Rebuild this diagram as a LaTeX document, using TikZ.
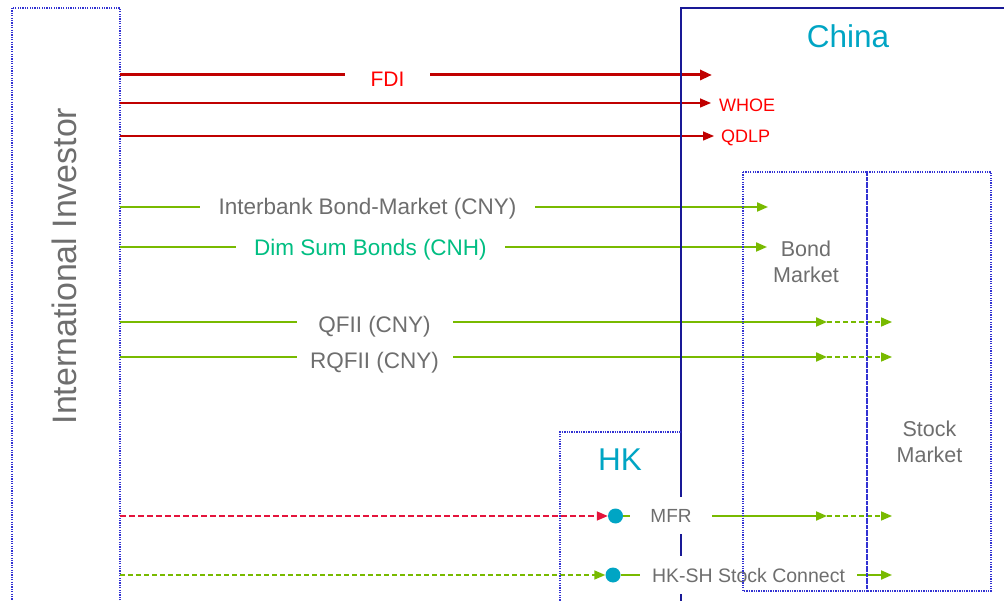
\documentclass[tikz,border=0pt]{standalone}
\usepackage{fontspec}
\setmainfont{Liberation Sans}
\usetikzlibrary{arrows.meta}
\definecolor{frameblue}{RGB}{50,50,210}
\definecolor{chinablue}{RGB}{25,25,150}
\definecolor{flowred}{RGB}{192,0,0}
\definecolor{labelred}{RGB}{255,0,0}
\definecolor{crimson}{RGB}{228,20,60}
\definecolor{lime}{RGB}{120,186,0}
\definecolor{mint}{RGB}{0,190,130}
\definecolor{regionteal}{RGB}{0,165,196}
\definecolor{textgray}{RGB}{110,110,110}
% font of a given size, with the node's text box set to its cap height
\newcommand{\fsz}[1]{\fontsize{#1}{#1}\selectfont}
\tikzset{
  capbox/.style={font=\fsz{#1}, text height=0.72*#1 pt, text depth=0pt},
  dotframe/.style={draw=frameblue, line width=1.3pt, dash pattern=on 1.3pt off 1.1pt},
  border/.style={draw=chinablue, line width=1.8pt},
  tip/.style={-{Triangle[length=11pt,width=9pt]}},
  redflow/.style={draw=flowred, line width=1.5pt, tip},
  fdiflow/.style={draw=flowred, line width=3pt, -{Triangle[length=12pt,width=10pt]}},
  greenflow/.style={draw=lime, line width=2pt, tip},
  greendash/.style={draw=lime, line width=1.6pt, dash pattern=on 5pt off 3pt, tip},
  reddash/.style={draw=crimson, line width=1.6pt, dash pattern=on 6pt off 3pt, tip},
  flowlabel/.style={fill=white, inner xsep=0pt, inner ysep=1pt, capbox=22.5, text=textgray},
  sidelabel/.style={anchor=west, inner sep=0pt, capbox=18, text=labelred},
  hub/.style={circle, fill=regionteal, minimum size=15pt, inner sep=0pt},
  region/.style={text=regionteal, inner sep=0pt, capbox=31.5},
  market/.style={text=textgray, font=\fontsize{21.5}{26.5}\selectfont, align=center, inner sep=0pt},
}
\begin{document}
\begin{tikzpicture}[x=1pt,y=-1pt]
\useasboundingbox (0,0) rectangle (1004,601);
\clip (0,0) rectangle (1004,601);

% investor frame and its label
\draw[dotframe] (12,8) rectangle (120,615);
\node[rotate=90, inner sep=0pt, capbox=33.9, text=textgray] (investor) at (64,266) {International Investor};

% start points on the investor frame
\coordinate (sFDI)   at (120,75);
\coordinate (sWHOE)  at (120,103);
\coordinate (sQDLP)  at (120,136);
\coordinate (sIBM)   at (120,207);
\coordinate (sDSB)   at (120,247);
\coordinate (sQFII)  at (120,322);
\coordinate (sRQFII) at (120,357);
\coordinate (sMFR)   at (120,516);
\coordinate (sHKSH)  at (120,575);

% end points inside China
\coordinate (eFDI)   at (712,75);
\coordinate (eWHOE)  at (711,103);
\coordinate (eQDLP)  at (714,136);
\coordinate (eIBM)   at (768,207);
\coordinate (eDSB)   at (767,247);
\coordinate (mQFII)  at (827,322);
\coordinate (eQFII)  at (892,322);
\coordinate (mRQFII) at (827,357);
\coordinate (eRQFII) at (892,357);
\coordinate (mMFR)   at (827,516);
\coordinate (eMFR)   at (892,516);
\coordinate (eHKSH)  at (892,575);

% Hong Kong hubs
\node[hub] (hubMFR)  at (615.5,516) {};
\node[hub] (hubHKSH) at (613,575) {};

% capital flows
\draw[fdiflow]   (sFDI)   -- (eFDI);
\draw[redflow]   (sWHOE)  -- (eWHOE);
\draw[redflow]   (sQDLP)  -- (eQDLP);
\draw[greenflow] (sIBM)   -- (eIBM);
\draw[greenflow] (sDSB)   -- (eDSB);
\draw[greenflow] (sQFII)  -- (mQFII);
\draw[greendash] (mQFII)  -- (eQFII);
\draw[greenflow] (sRQFII) -- (mRQFII);
\draw[greendash] (mRQFII) -- (eRQFII);
\draw[reddash]   (sMFR)   -- (hubMFR);
\draw[greenflow] (hubMFR) -- (mMFR);
\draw[greendash] (mMFR)   -- (eMFR);
\draw[greendash] (sHKSH)  -- (hubHKSH);
\draw[greenflow] (hubHKSH) -- (eHKSH);

% China border and Hong Kong frame
\draw[border] (681,615) -- (681,8) -- (1015,8);
\draw[dotframe] (560,615) -- (560,432) -- (681,432);

% flow labels
\node[flowlabel, text=labelred, capbox=21, minimum width=85pt] (lFDI) at (387.5,78.5) {FDI};
\node[sidelabel] (lWHOE) at (719,104.7) {WHOE};
\node[sidelabel] (lQDLP) at (721,136.3) {QDLP};
\node[flowlabel, minimum width=335pt] (lIBM) at (367.5,206.5) {Interbank Bond-Market (CNY)};
\node[flowlabel, text=mint, minimum width=269pt] (lDSB) at (370.5,247) {Dim Sum Bonds (CNH)};
\node[flowlabel, minimum width=156pt] (lQFII) at (374.5,324) {QFII (CNY)};
\node[flowlabel, minimum width=156pt] (lRQFII) at (374.5,360) {RQFII (CNY)};
\node[flowlabel, capbox=19, minimum width=82pt, minimum height=37pt] (lMFR) at (671,515.7) {MFR};
\node[flowlabel, capbox=19.5, minimum width=217pt, minimum height=38pt] (lHKSH) at (748.5,575) {HK-SH Stock Connect};

% market frames
\draw[dotframe] (743,172) rectangle (867,591);
\draw[dotframe] (867,172) rectangle (991,591);
\node[market] (bond)  at (806,262) {Bond\\Market};
\node[market] (stock) at (929.5,442) {Stock\\Market};

% region names
\node[region] (china) at (848,36.5) {China};
\node[region] (hk) at (620,459.5) {HK};
\end{tikzpicture}
\end{document}
